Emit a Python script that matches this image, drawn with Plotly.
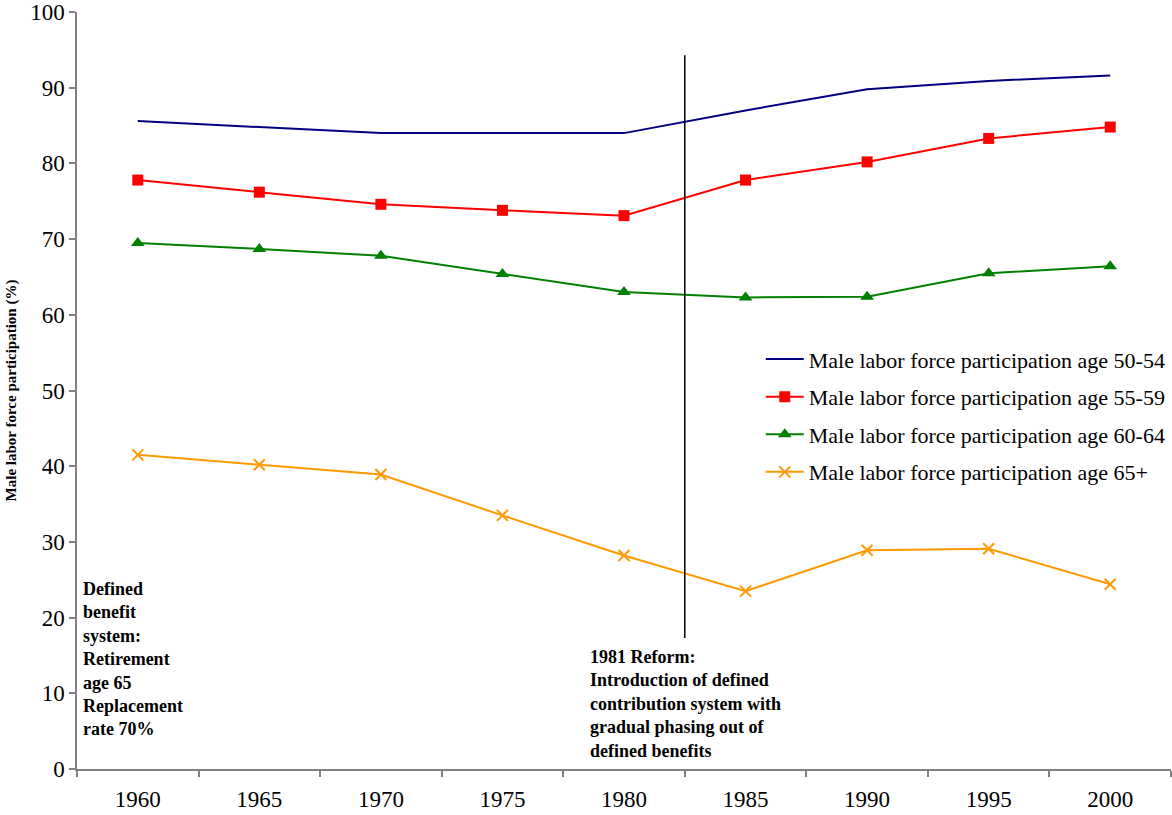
import plotly.graph_objects as go

years = ["1960", "1965", "1970", "1975", "1980", "1985", "1990", "1995", "2000"]

age_50_54 = [85.6, 84.8, 84.0, 84.0, 84.0, 87.0, 89.8, 90.9, 91.6]
age_55_59 = [77.8, 76.2, 74.6, 73.8, 73.1, 77.8, 80.2, 83.3, 84.8]
age_60_64 = [69.5, 68.7, 67.8, 65.4, 63.0, 62.3, 62.4, 65.5, 66.4]
age_65_plus = [41.5, 40.2, 38.9, 33.5, 28.2, 23.5, 28.9, 29.1, 24.4]

series_names = [
    "Male labor force participation age 50-54",
    "Male labor force participation age 55-59",
    "Male labor force participation age 60-64",
    "Male labor force participation age 65+",
]

reform_position = 4.5          # between 1980 and 1985 on the category axis
reform_span = [17.3, 94.3]

serif = "Liberation Serif, Times New Roman, serif"

fig = go.Figure()

fig.add_trace(go.Scatter(
    x=years, y=age_50_54, name=series_names[0], mode="lines",
    line=dict(color="#000080", width=2), legendgroup="a",
))
fig.add_trace(go.Scatter(
    x=years, y=age_55_59, name=series_names[1], mode="lines+markers",
    line=dict(color="#FF0000", width=2),
    marker=dict(symbol="square", size=11, color="#FF0000"), legendgroup="b",
))
fig.add_trace(go.Scatter(
    x=years, y=age_60_64, name=series_names[2], mode="lines+markers",
    line=dict(color="#008000", width=2),
    marker=dict(symbol="triangle-up", size=12, color="#008000"), legendgroup="c",
))
fig.add_trace(go.Scatter(
    x=years, y=age_65_plus, name=series_names[3], mode="lines+markers",
    line=dict(color="#FF9900", width=2),
    marker=dict(symbol="x-thin", size=11, color="#FF9900",
                line=dict(color="#FF9900", width=2)), legendgroup="d",
))

# 1981 reform marker line
fig.add_shape(
    type="line", xref="x", yref="y",
    x0=reform_position, x1=reform_position,
    y0=reform_span[0], y1=reform_span[1],
    line=dict(color="#000000", width=1.5),
)

fig.add_annotation(
    xref="x", yref="y", x=-0.5, y=25.3, xanchor="left", yanchor="top",
    xshift=4, showarrow=False, align="left",
    text="<b>Defined<br>benefit<br>system:<br>Retirement<br>age 65<br>Replacement<br>rate 70%</b>",
    font=dict(family=serif, size=18, color="#000000"),
)
fig.add_annotation(
    xref="x", yref="y", x=3.7, y=16.4, xanchor="left", yanchor="top",
    showarrow=False, align="left",
    text="<b>1981 Reform:<br>Introduction of defined<br>contribution system with<br>gradual phasing out of<br>defined benefits</b>",
    font=dict(family=serif, size=18, color="#000000"),
)

fig.update_layout(
    width=1172, height=815,
    margin=dict(l=77, r=1, t=12, b=46),
    paper_bgcolor="#FFFFFF", plot_bgcolor="#FFFFFF",
    font=dict(family=serif, color="#000000"),
    showlegend=True,
    legend=dict(
        x=0.625, y=0.569, xanchor="left", yanchor="top",
        font=dict(family=serif, size=22, color="#000000"),
        bgcolor="rgba(0,0,0,0)", tracegroupgap=6, itemwidth=38,
    ),
)

fig.update_xaxes(
    type="category", range=[-0.5, 8.5], tickson="boundaries",
    showline=True, linecolor="#808080", linewidth=1.5,
    ticks="outside", ticklen=6, tickcolor="#808080", tickwidth=1.5,
    showgrid=False, zeroline=False, ticklabelstandoff=9,
    tickfont=dict(family=serif, size=23, color="#000000"),
)
fig.update_yaxes(
    range=[0, 100], dtick=10, tick0=0,
    showline=True, linecolor="#808080", linewidth=1.5,
    ticks="outside", ticklen=6, tickcolor="#808080", tickwidth=1.5,
    showgrid=False, zeroline=False,
    tickfont=dict(family=serif, size=23, color="#000000"),
    title=dict(text="<b>Male labor force participation (%)</b>",
               font=dict(family=serif, size=15, color="#000000"), standoff=10),
)

fig.write_html("out.html")
